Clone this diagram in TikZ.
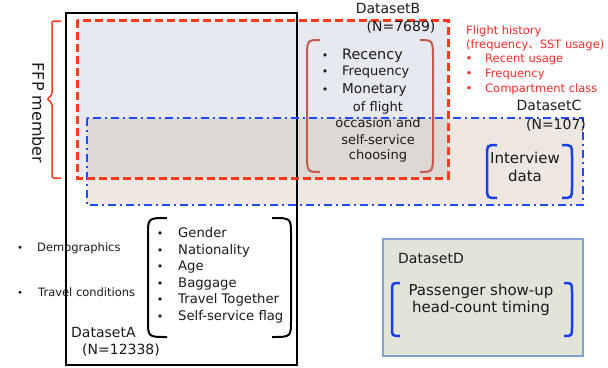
\documentclass[tikz,border=0pt]{standalone}
\usepackage{fontspec}
\setmainfont{DejaVu Sans}
\newfontfamily\cjkfont{Noto Sans CJK JP}
\newcommand\FS[1]{\fontsize{#1}{#1}\selectfont}
\definecolor{bfill}{HTML}{E6E9EF}
\definecolor{cfill}{HTML}{EDE6E1}
\definecolor{bcfill}{HTML}{DDD8D4}
\definecolor{redd}{HTML}{FF3A1A}
\definecolor{blued}{HTML}{1F4CFF}
\definecolor{parred}{HTML}{C6584C}
\definecolor{parblue}{HTML}{1A3DEB}
\definecolor{dfill}{HTML}{E2E4DA}
\definecolor{dline}{HTML}{7EA2D2}
\definecolor{redtxt}{HTML}{FF2A2A}
\definecolor{ink}{HTML}{1A1A1A}
\newcommand\ParPair[7]{%
  \draw[#1] (#2+#6,#4) .. controls (#2,#4) .. (#2,#4+#7) -- (#2,#5-#7) .. controls (#2,#5) .. (#2+#6,#5);
  \draw[#1] (#3-#6,#4) .. controls (#3,#4) .. (#3,#4+#7) -- (#3,#5-#7) .. controls (#3,#5) .. (#3-#6,#5);
}
\begin{document}
\begin{tikzpicture}[x=1pt,y=-1pt,
  t/.style={inner sep=0pt, text=ink},
  tw/.style={t, anchor=mid west},
  tc/.style={t, anchor=mid},
  rt/.style={inner sep=0pt, text=redtxt, anchor=mid west, font=\FS{11.5}},
  boxA/.style={draw=black, line width=2.2pt},
  boxB/.style={draw=redd, line width=3pt, dash pattern=on 8pt off 4pt},
  boxC/.style={draw=blued, line width=2pt, dash pattern=on 8pt off 4pt on 2pt off 4pt},
  parR/.style={draw=parred, line width=2pt},
  parK/.style={draw=black, line width=2pt},
  parB/.style={draw=parblue, line width=2.5pt},
  ffp/.style={draw=redd, line width=1.5pt}]
\useasboundingbox (0,0) rectangle (608,367);
% fills
\fill[bfill] (77,20) rectangle (448,178);
\fill[cfill] (87,118) rectangle (583,205);
\fill[bcfill] (87,118) rectangle (448,178);
% Dataset D box
\draw[fill=dfill, draw=dline, line width=1.3pt] (383,239) rectangle (583,356);
% outlines
\draw[boxA] (66,13) rectangle (297,365);
\draw[boxC] (87,118) rectangle (583,205);
\draw[boxB] (77,20) rectangle (448,178);
% FFP bracket
\draw[ffp, rounded corners=2pt] (61,21) -- (52,21) -- (52,95) -- (47,99) -- (52,103) -- (52,178) -- (61,178);
\node[tc, rotate=-90, font=\FS{16}] (ffpm) at (35,113) {FFP member};
% parens
\ParPair{parR}{307}{433}{40}{172}{13}{20}
\ParPair{parB}{487}{572}{145}{198}{10}{11}
\ParPair{parK}{148}{291}{218}{337}{19}{17}
\ParPair{parB}{392}{572}{283}{336}{8}{9}
% Dataset B labels
\node[tc, font=\FS{14}] (lblB) at (388,11) {DatasetB};
\node[tc, font=\FS{14}] (nB) at (401,29) {(N=7689)};
% red text
\node[rt] (fh1) at (466,32) {Flight history};
\node[rt] (fh2) at (466,46) {(frequency{\cjkfont 、}SST usage)};
\node[rt, anchor=mid] (rb1) at (469,60) {•};
\node[rt] (ru) at (485,60) {Recent usage};
\node[rt, anchor=mid] (rb2) at (469,75) {•};
\node[rt] (rf) at (485,75) {Frequency};
\node[rt, anchor=mid] (rb3) at (469,90) {•};
\node[rt] (rc) at (485,90) {Compartment class};
% Dataset C labels
\node[tc, font=\FS{14}] (lblC) at (549,108) {DatasetC};
\node[tc, font=\FS{14}] (nC) at (556,127) {(N=107)};
% RFM list
\node[tc, font=\FS{11}] (b1) at (325,57) {•};
\node[tw, font=\FS{14.4}] (rec) at (342,57) {Recency};
\node[tc, font=\FS{11}] (b2) at (325,73) {•};
\node[tw, font=\FS{13}] (frq) at (342,73) {Frequency};
\node[tc, font=\FS{11}] (b3) at (325,91) {•};
\node[tw, font=\FS{13.6}] (mon) at (342,91) {Monetary};
\node[tc, font=\FS{13}] (of) at (378,109) {of flight};
\node[tc, font=\FS{13}] (occ) at (378,125) {occasion and};
\node[tc, font=\FS{13}] (ss) at (378,142) {self-service};
\node[tc, font=\FS{13}] (ch) at (378,157) {choosing};
% Interview
\node[tc, font=\FS{15}] (iv1) at (525,161) {Interview};
\node[tc, font=\FS{15}] (iv2) at (525,179) {data};
% left labels
\node[tc, font=\FS{10}] (db1) at (20,249) {•};
\node[tw, font=\FS{11.5}] (demo) at (37,249) {Demographics};
\node[tc, font=\FS{10}] (db2) at (20,294) {•};
\node[tw, font=\FS{11.5}] (trav) at (38,294) {Travel conditions};
% attribute list
\foreach \y/\s/\n in {235/Gender/g1,252/Nationality/g2,268/Age/g3,285/Baggage/g4,301/Travel Together/g5,318/Self-service flag/g6}{
  \node[tc, font=\FS{11}] (\n b) at (160,\y) {•};
  \node[tw, font=\FS{13.2}] (\n) at (178,\y) {\s};
}
% Dataset A labels
\node[tw, font=\FS{14}] (lblA) at (71,335) {DatasetA};
\node[tw, font=\FS{14}] (nA) at (82,352) {(N=12338)};
% Dataset D labels
\node[tw, font=\FS{14}] (lblD) at (398,261) {DatasetD};
\node[tc, font=\FS{15}] (ps1) at (481,293) {Passenger show-up};
\node[tc, font=\FS{15}] (ps2) at (481,310) {head-count timing};
\end{tikzpicture}
\end{document}
